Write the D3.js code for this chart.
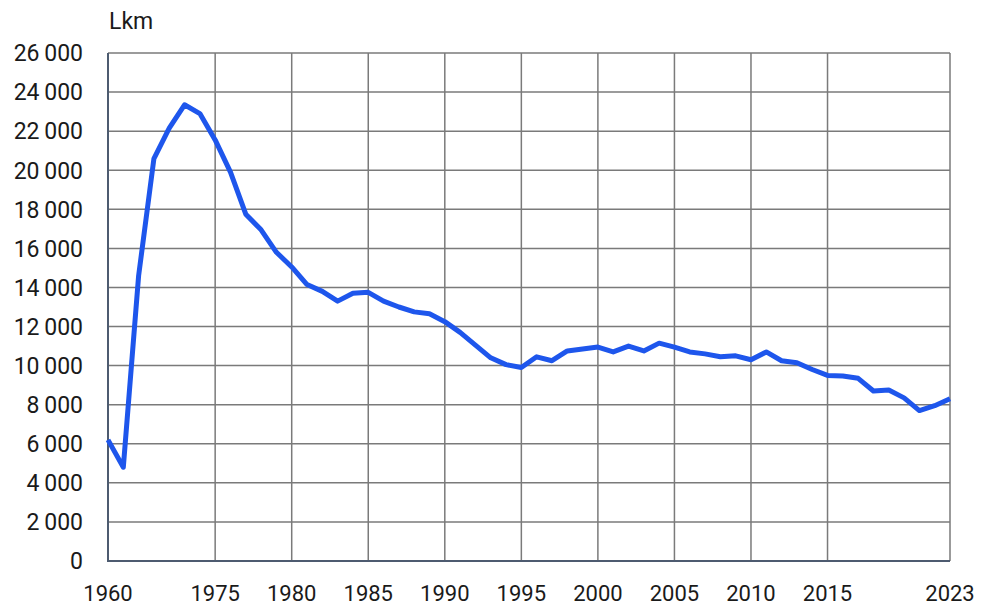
<!DOCTYPE html>
<html><head><meta charset="utf-8">
<script src="https://cdn.jsdelivr.net/npm/d3@7"></script>
<style>body{margin:0;background:#fff}svg{display:block}text{font-family:Roboto,"Noto Sans",sans-serif;fill:#1a1a1a}</style>
</head><body><svg id="c" width="985" height="609"></svg>
<script>
const years = ["1960","1965"].concat(d3.range(1970,2024).map(String));
const values = [6200,4800,14600,20600,22150,23350,22900,21550,19900,17750,16950,15800,15050,14150,13800,13300,13700,13750,13300,13000,12750,12650,12250,11700,11050,10400,10050,9900,10450,10250,10750,10850,10950,10700,11000,10750,11150,10950,10700,10600,10450,10500,10300,10700,10250,10150,9800,9500,9470,9350,8700,8750,8350,7700,7950,8300];
const yTicks = [0,2000,4000,6000,8000,10000,12000,14000,16000,18000,20000,22000,24000,26000];
const xTickLabels = ["1960","1975","1980","1985","1990","1995","2000","2005","2010","2015","2023"];
const xGridYears = ["1975","1980","1985","1990","1995","2000","2005","2010","2015","2023"];
const yLabel = "Lkm";

const svg = d3.select("#c");
const m = {l:108, r:950, t:53, b:561};
const x = d3.scalePoint().domain(years).range([m.l, m.r]);
const y = d3.scaleLinear().domain([0,26000]).range([m.b, m.t]);
const fmt = d3.formatLocale({decimal:",", thousands:"\u2009", grouping:[3], currency:["",""]}).format(",d");

svg.append("g").selectAll("line").data(yTicks.filter(d=>d>0)).join("line")
  .attr("x1", m.l).attr("x2", m.r).attr("y1", d=>y(d)).attr("y2", d=>y(d))
  .attr("stroke", "#7a7a7a").attr("stroke-width", 1.5);
svg.append("g").selectAll("line").data(xGridYears).join("line")
  .attr("x1", d=>x(d)).attr("x2", d=>x(d)).attr("y1", m.t).attr("y2", m.b)
  .attr("stroke", "#7a7a7a").attr("stroke-width", 1.5);

svg.append("line").attr("x1", m.l).attr("x2", m.l).attr("y1", m.t).attr("y2", m.b+1)
  .attr("stroke", "#4d5b70").attr("stroke-width", 2);
svg.append("line").attr("x1", m.l-1).attr("x2", m.r).attr("y1", m.b).attr("y2", m.b)
  .attr("stroke", "#4d5b70").attr("stroke-width", 2);

svg.append("g").selectAll("text").data(yTicks).join("text")
  .attr("x", 83).attr("y", d=>y(d)).attr("dy", "0.36em").attr("text-anchor", "end")
  .attr("font-size", 23).text(d=>fmt(d));
svg.append("g").selectAll("text").data(xTickLabels).join("text")
  .attr("x", d=>x(d)).attr("y", 601).attr("text-anchor", "middle")
  .attr("font-size", 22).text(d=>d);
svg.append("text").attr("x", 109).attr("y", 29).attr("font-size", 23).text(yLabel);

const line = d3.line().x((d,i)=>x(years[i])).y(d=>y(d));
svg.append("path").datum(values).attr("d", line).attr("fill","none")
  .attr("stroke", "#1e56ec").attr("stroke-width", 5).attr("stroke-linejoin","round");
</script></body></html>
